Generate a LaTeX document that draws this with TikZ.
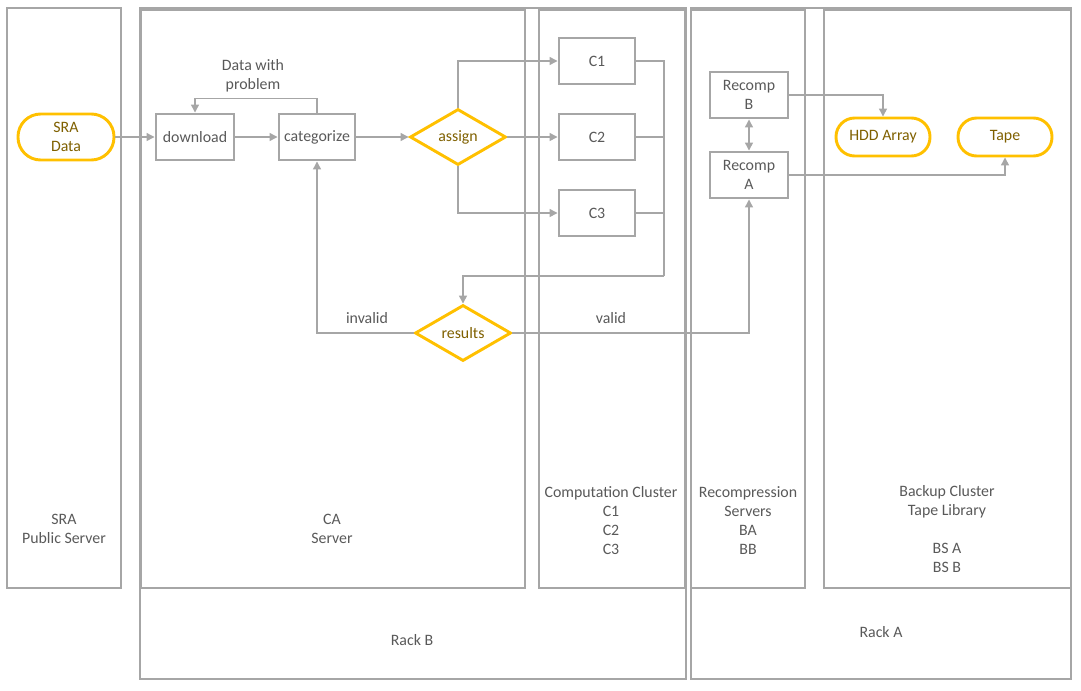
\documentclass[tikz,border=0pt]{standalone}
\usepackage{fontspec}
\setmainfont{Carlito}
\usetikzlibrary{arrows.meta,shapes.geometric}
\definecolor{lgray}{HTML}{A6A6A6}
\definecolor{tgray}{HTML}{595959}
\definecolor{yel}{HTML}{FFC000}
\definecolor{gold}{HTML}{7F6000}
\tikzset{
  container/.style={draw=lgray,line width=2pt},
  procbox/.style={draw=lgray,line width=2.2pt,rectangle,minimum width=58.5pt,minimum height=34.5pt,inner sep=0pt,text=tgray,align=center,font=\fontsize{11.9}{14.25}\selectfont},
  term/.style={draw=yel,line width=2.2pt,rectangle,rounded corners=17pt,minimum width=72pt,minimum height=34.5pt,inner sep=0pt,text=gold,align=center,font=\fontsize{11.9}{14.25}\selectfont},
  term2/.style={draw=yel,line width=2.2pt,rectangle,rounded corners=14pt,minimum width=70.5pt,minimum height=28.5pt,inner sep=0pt,text=gold,align=center,font=\fontsize{11.9}{14.25}\selectfont},
  decis/.style={draw=yel,line width=2.2pt,diamond,minimum width=72pt,minimum height=42pt,inner sep=0pt,text=gold,font=\fontsize{11.9}{14.25}\selectfont},
  conn/.style={draw=lgray,line width=1pt,-{Triangle[length=6pt,width=6pt]}},
  biconn/.style={draw=lgray,line width=1pt,{Triangle[length=6pt,width=6pt]}-{Triangle[length=6pt,width=6pt]}},
  plain/.style={draw=lgray,line width=1pt},
  lbl/.style={text=tgray,align=center,font=\fontsize{11.9}{14.25}\selectfont,inner sep=0pt},
}
\begin{document}
\begin{tikzpicture}[x=0.75pt,y=-0.75pt]
\useasboundingbox (0,0) rectangle (1081,690);
% containers
\draw[container] (7,8) rectangle (121,588);
\draw[container] (140,8) rectangle (686,679);
\draw[container] (141,10) rectangle (525,588);
\draw[container] (539,10) rectangle (685,588);
\draw[container] (691,8) rectangle (1071,679);
\draw[container] (691,10) rectangle (805,588);
\draw[container] (824,10) rectangle (1071,588);
% container labels
\node[lbl] (lsra) at (64,529) {SRA\\Public Server};
\node[lbl] (lca) at (332,529) {CA\\Server};
\node[lbl] (lcc) at (611,520.5) {Computation Cluster\\C1\\C2\\C3};
\node[lbl] (lrs) at (748,520.5) {Recompression\\Servers\\BA\\BB};
\node[lbl] (lbc) at (947,529.5) {Backup Cluster\\Tape Library\\[14.25pt]BS A\\BS B};
\node[lbl] (lrb) at (412,640) {Rack B};
\node[lbl] (lra) at (881,632) {Rack A};
% nodes
\node[term] (sra) at (66,137) {SRA\\Data};
\node[procbox] (dl) at (195,137) {download};
\node[procbox,minimum width=57pt] (cat) at (317,137) {categorize};
\node[decis] (assign) at (458,137) {assign};
\node[procbox,minimum width=57pt] (c1) at (597,61) {C1};
\node[procbox,minimum width=57pt] (c2) at (597,137) {C2};
\node[procbox,minimum width=57pt] (c3) at (597,213) {C3};
\node[decis] (res) at (463,333) {results};
\node[procbox] (rb) at (749,95) {Recomp\\B};
\node[procbox] (ra) at (749,175) {Recomp\\A};
\node[term2] (hdd) at (883,137) {HDD Array};
\node[term2] (tape) at (1005,137) {Tape};
\coordinate (bus) at (664,276);
% connectors
\draw[conn] (sra.east) -- (dl.west);
\draw[conn] (dl.east) -- (cat.west);
\draw[conn] (cat.east) -- (assign.west);
\draw[conn] (cat.north) -- ++(0,-14) -| (dl.north);
\node[lbl] (ldp) at (253,76) {Data with\\problem};
\draw[conn] (assign.north) |- (c1.west);
\draw[conn] (assign.east) -- (c2.west);
\draw[conn] (assign.south) |- (c3.west);
\draw[plain] (c1.east) -| (bus);
\draw[plain] (c2.east) -- (c2.east -| bus);
\draw[plain] (c3.east) -- (c3.east -| bus);
\draw[conn] (bus) -| (res.north);
\draw[conn] (res.west) -| (cat.south);
\node[lbl] (linv) at (367,318) {invalid};
\draw[conn] (res.east) -| (ra.south);
\node[lbl] (lval) at (611,318) {valid};
\draw[biconn] (rb.south) -- (ra.north);
\draw[conn] (rb.east) -| (hdd.north);
\draw[conn] (ra.east) -| (tape.south);
\end{tikzpicture}
\end{document}
